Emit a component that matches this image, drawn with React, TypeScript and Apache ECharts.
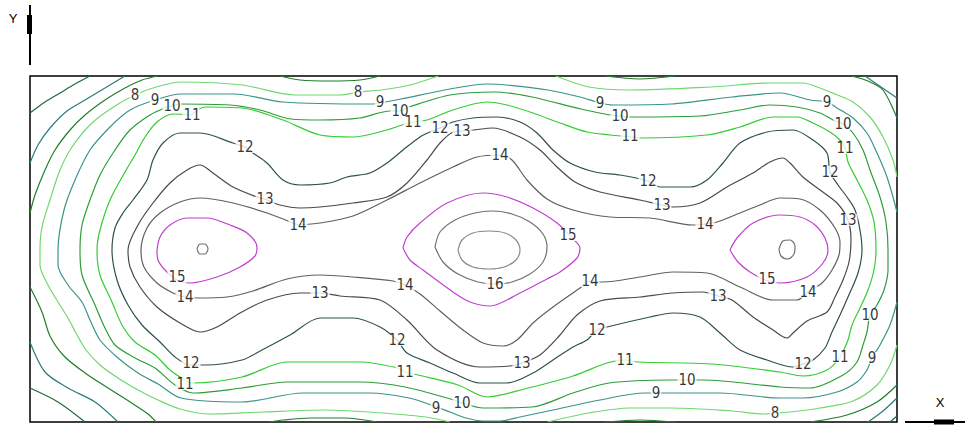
import React, { useEffect, useRef } from "react";
import * as echarts from "echarts";

// Contour lines, in plot units (x 0..86.7, y 0..34.6).
// Each level holds one or more polylines.
const c5 = [
  [[0.0, 30.9], [1.5, 32.0], [3.0, 32.9], [4.5, 33.8], [6.0, 34.6]],
  [[0.0, 3.4], [2.8, 2.0], [5.5, 0.0]],
  [[86.0, 0.0], [86.7, 0.6]],
];
const c6 = [
  [[0.0, 25.9], [0.8, 27.7], [2.0, 29.4], [3.7, 31.1], [5.5, 32.2], [7.5, 33.4], [9.5, 34.6]],
  [[0.0, 8.0], [1.5, 5.0], [3.8, 3.4], [6.5, 2.0], [8.8, 0.0]],
  [[83.5, 34.6], [86.7, 32.4]],
  [[83.8, 0.0], [85.3, 1.1], [86.7, 2.4]],
];
const c7 = [
  [[0.0, 20.9], [0.5, 22.7], [1.5, 25.2], [2.5, 27.2], [4.0, 29.2], [5.5, 30.7], [7.5, 32.2], [9.5, 33.4], [11.2, 34.2], [12.8, 34.6]],
  [[25.0, 34.6], [27.0, 34.2], [30.0, 34.1], [33.0, 34.2], [35.0, 34.6]],
  [[57.5, 34.6], [61.0, 34.3], [64.5, 34.6]],
  [[82.2, 34.6], [83.8, 34.1], [85.3, 33.2], [86.7, 30.4]],
  [[0.0, 13.5], [1.2, 11.0], [2.0, 8.6], [3.4, 6.6], [5.5, 4.9], [7.8, 3.4], [10.0, 2.0], [11.8, 0.8], [12.6, 0.0]],
  [[24.0, 0.0], [25.3, 0.2], [28.1, 0.4], [31.4, 0.4], [34.7, 0.0]],
  [[57.5, 0.0], [61.0, 0.2], [64.5, 0.0]],
  [[78.0, 0.0], [81.7, 0.7], [84.7, 2.0], [86.7, 3.7]],
];
const c8 = [
  [[40.8, 34.6], [38.0, 33.7], [35.1, 33.2], [32.8, 33.0], [31.0, 32.7], [26.5, 32.7], [21.2, 33.7], [15.1, 34.0], [12.6, 33.5], [10.5, 32.7],
   [8.5, 31.6], [6.2, 29.9], [4.2, 27.5], [3.0, 25.2], [2.0, 22.2], [1.2, 19.5], [1.0, 17.2], [1.0, 15.7], [1.8, 13.7], [2.8, 12.0],
   [3.8, 10.4], [4.6, 8.9], [5.6, 7.2], [7.0, 5.7], [8.8, 4.4], [10.8, 3.2], [12.8, 2.2], [15.0, 1.3], [17.9, 0.8], [23.2, 1.0],
   [29.4, 1.2], [33.9, 1.0], [39.6, 0.5], [42.0, 0.0]],
  [[52.6, 34.6], [55.9, 33.5], [60.0, 33.2], [68.1, 33.5], [74.0, 33.9], [77.3, 33.9], [79.0, 33.4], [80.5, 32.8], [82.3, 32.0], [84.0, 30.5],
   [85.3, 28.5], [86.3, 26.2], [86.7, 24.5]],
  [[51.8, 0.0], [55.9, 0.9], [60.0, 1.4], [64.1, 1.4], [70.2, 1.1], [73.5, 0.8], [74.5, 0.9], [76.0, 1.0], [79.0, 1.4], [82.3, 2.1],
   [84.7, 3.7], [86.0, 5.7], [86.7, 7.7]],
];
const c9 = [
  [[86.7, 21.0], [85.7, 24.5], [84.7, 26.9], [83.7, 28.9], [82.3, 30.4], [80.7, 31.4], [79.7, 32.0], [78.0, 32.2], [75.0, 32.9], [70.2, 32.5],
   [64.1, 31.8], [58.3, 31.7], [57.0, 31.9], [55.0, 32.5], [51.8, 33.2], [47.7, 33.7], [45.7, 33.8], [42.0, 33.3], [37.1, 32.3], [35.0, 31.9],
   [34.3, 31.8], [25.3, 32.0], [20.4, 32.8], [15.1, 32.8], [12.5, 32.2], [10.0, 31.2], [8.0, 29.5], [6.0, 27.2], [4.5, 24.2], [3.4, 21.2],
   [2.8, 17.2], [2.8, 15.7], [3.8, 13.7], [5.2, 12.0], [6.0, 10.2], [7.0, 8.2], [8.8, 6.4], [10.8, 4.9], [12.8, 3.8], [15.1, 2.4],
   [21.2, 2.0], [27.3, 2.9], [33.9, 2.9], [37.9, 2.4], [40.4, 1.6], [42.0, 1.0], [43.6, 0.4], [45.3, 0.1], [47.0, 0.1], [49.0, 0.5],
   [52.3, 1.2], [57.0, 2.2], [61.5, 2.9], [62.6, 2.9], [64.0, 2.9], [69.0, 2.9], [75.0, 2.4], [77.3, 2.4], [80.7, 3.0], [82.7, 4.0],
   [83.7, 5.2], [84.2, 6.4], [85.0, 7.7], [86.0, 9.7], [86.7, 12.0]],
];
const c10 = [
  [[14.2, 31.6], [15.0, 31.8], [20.0, 31.7], [23.0, 31.2], [26.1, 30.3], [29.0, 30.2], [33.0, 30.4], [36.0, 31.1], [37.0, 31.1], [37.9, 31.5],
   [42.0, 32.7], [46.5, 33.0], [50.2, 32.5], [55.1, 31.3], [58.0, 30.7], [59.0, 30.6], [60.0, 30.5], [67.0, 30.6], [71.0, 31.2], [74.0, 31.7],
   [76.7, 31.5], [79.0, 30.9], [80.3, 30.2], [81.3, 29.8], [82.3, 28.9], [83.3, 27.2], [84.0, 25.2], [85.0, 22.5], [85.6, 20.0], [85.8, 17.2],
   [85.8, 15.2], [85.4, 13.2], [84.7, 11.7], [84.0, 10.7], [83.7, 9.0], [83.3, 7.7], [82.7, 6.0], [81.3, 4.7], [78.0, 3.4], [75.0, 3.5],
   [67.3, 4.2], [65.7, 4.2], [64.1, 4.2], [57.9, 3.9], [54.3, 2.9], [50.2, 1.5], [45.3, 1.4], [43.2, 1.9], [42.4, 2.2], [37.5, 3.5],
   [33.0, 4.0], [25.7, 4.0], [21.2, 3.4], [16.3, 2.9], [14.5, 3.7], [12.5, 5.4], [10.5, 6.4], [8.5, 7.7], [7.5, 9.4], [6.5, 11.7],
   [5.2, 14.7], [5.0, 17.2], [5.2, 19.7], [6.0, 22.2], [7.0, 24.7], [8.5, 27.2], [10.0, 29.2], [12.0, 30.7], [13.5, 31.4], [14.2, 31.6]],
];
const c11 = [
  [[16.2, 30.7], [17.5, 31.5], [21.2, 31.4], [25.3, 30.2], [29.0, 28.7], [32.3, 28.5], [35.7, 29.2], [37.2, 29.7], [38.3, 30.0], [39.7, 30.2],
   [42.3, 31.2], [45.7, 32.0], [47.7, 31.7], [50.3, 30.9], [53.0, 29.9], [55.7, 29.0], [58.0, 28.7], [60.2, 28.5], [61.0, 28.4], [67.7, 28.7],
   [71.0, 29.5], [74.3, 30.5], [76.7, 30.5], [78.3, 29.9], [80.0, 29.0], [81.0, 28.2], [81.5, 27.4], [81.8, 26.0], [82.7, 24.2], [83.7, 22.2],
   [84.4, 20.0], [84.6, 17.2], [84.4, 15.2], [83.8, 13.2], [83.0, 11.4], [82.2, 9.7], [81.8, 8.2], [81.0, 6.5], [79.7, 5.2], [77.3, 4.6],
   [75.0, 5.0], [68.1, 5.8], [60.8, 6.0], [59.5, 6.2], [57.7, 5.9], [54.3, 4.6], [49.8, 3.4], [45.7, 2.5], [42.8, 3.7], [38.8, 4.7],
   [37.5, 5.0], [36.8, 5.4], [33.0, 6.0], [25.7, 6.0], [21.2, 4.5], [16.3, 3.9], [15.5, 4.2], [14.0, 5.2], [12.5, 6.7], [10.5, 8.0],
   [9.2, 9.7], [8.2, 12.0], [7.0, 14.7], [6.7, 17.2], [7.0, 19.2], [8.0, 22.2], [9.5, 25.0], [10.5, 26.7], [11.5, 28.5], [12.7, 30.0],
   [14.3, 30.8], [16.2, 30.7]],
];
const c12 = [
  [[21.5, 27.5], [22.3, 26.9], [23.7, 25.9], [25.3, 24.2], [27.0, 23.7], [30.0, 23.9], [31.7, 24.5], [34.0, 24.9], [35.7, 25.9], [37.3, 27.2],
   [39.0, 28.5], [40.0, 29.0], [41.0, 29.4], [42.3, 30.0], [44.3, 30.4], [46.7, 30.5], [49.0, 30.0], [50.7, 28.9], [52.3, 27.2], [54.0, 25.9],
   [56.5, 25.0], [59.0, 24.7], [61.8, 24.1], [63.0, 23.5], [66.0, 23.5], [67.7, 24.2], [69.3, 25.9], [71.0, 27.9], [73.7, 29.0], [76.3, 29.2],
   [78.3, 28.2], [79.7, 26.9], [80.0, 25.0], [80.8, 23.7], [81.7, 22.5], [82.5, 21.2], [83.0, 19.2], [83.2, 17.2], [82.8, 14.9], [81.8, 12.5],
   [81.0, 10.7], [80.2, 9.0], [79.5, 7.4], [78.3, 6.2], [77.3, 5.8], [76.3, 5.5], [73.7, 6.2], [71.0, 7.2], [69.0, 8.9], [67.0, 10.5],
   [64.3, 10.9], [62.0, 10.5], [57.7, 9.5], [56.7, 9.2], [55.7, 8.2], [54.3, 7.5], [52.3, 6.2], [50.3, 4.9], [47.7, 3.9], [45.0, 3.9],
   [42.3, 4.9], [40.0, 5.9], [37.7, 6.9], [36.7, 8.2], [35.0, 9.5], [32.3, 10.4], [29.0, 10.4], [26.0, 8.7], [23.2, 7.2], [21.2, 6.2],
   [17.5, 5.7], [16.0, 5.7], [14.5, 6.5], [13.0, 8.0], [11.2, 9.7], [9.8, 11.7], [8.7, 14.2], [8.2, 17.2], [8.5, 19.4], [9.3, 20.9],
   [10.3, 22.2], [11.7, 24.2], [12.3, 26.2], [13.3, 27.9], [15.0, 28.9], [17.0, 28.9], [20.3, 27.9], [21.5, 27.5]],
];
const c13 = [
  [[23.5, 22.3], [25.0, 21.7], [27.0, 21.4], [29.0, 21.5], [32.3, 21.9], [35.7, 22.5], [37.7, 23.9], [39.7, 26.2], [41.0, 27.9], [42.3, 29.0],
   [43.2, 29.1], [44.3, 29.2], [46.3, 29.4], [49.0, 28.5], [51.0, 27.2], [52.7, 25.5], [54.5, 24.0], [57.0, 23.0], [61.0, 22.2], [63.2, 21.7],
   [64.3, 21.5], [67.0, 21.9], [69.7, 23.5], [72.3, 24.9], [74.0, 26.0], [75.3, 26.4], [76.0, 25.9], [77.3, 24.5], [79.0, 23.2], [80.7, 21.9],
   [81.8, 20.2], [82.1, 18.2], [81.9, 16.0], [81.3, 14.2], [80.5, 12.5], [79.7, 11.0], [77.7, 10.1], [76.3, 8.9], [75.7, 8.4], [74.3, 9.2],
   [72.3, 10.5], [70.2, 12.2], [68.8, 12.6], [67.3, 13.0], [64.3, 12.9], [61.0, 12.5], [57.0, 12.1], [54.7, 10.7], [53.0, 8.7], [51.0, 6.7],
   [49.2, 5.9], [48.0, 5.6], [45.0, 5.5], [40.7, 7.2], [37.7, 10.2], [35.0, 12.2], [31.0, 12.6], [29.0, 12.9], [27.0, 12.9], [23.7, 12.2],
   [21.0, 10.9], [18.7, 9.5], [17.0, 9.0], [15.0, 9.9], [12.7, 11.5], [11.0, 13.5], [10.0, 15.5], [9.8, 17.2], [10.8, 19.7], [12.3, 21.9],
   [14.0, 23.9], [15.7, 25.2], [17.0, 25.7], [18.3, 24.9], [20.3, 23.5], [22.7, 22.5], [23.5, 22.3]],
];
const c14 = [
  [[26.8, 19.7], [23.7, 20.9], [20.3, 21.9], [17.0, 22.4], [15.0, 22.0], [13.0, 20.9], [11.7, 19.4], [11.1, 17.2], [11.4, 15.5], [12.7, 13.9],
   [14.3, 12.9], [15.5, 12.5], [16.7, 12.4], [19.7, 12.5], [22.3, 13.1], [25.7, 14.3], [29.0, 14.7], [32.3, 14.5], [36.3, 14.1], [37.5, 13.7],
   [39.0, 12.8], [41.0, 11.1], [43.3, 9.2], [45.3, 7.9], [47.3, 7.6], [48.7, 8.2], [50.3, 9.9], [52.3, 11.5], [55.0, 13.4], [56.0, 14.1],
   [57.3, 14.0], [61.0, 14.5], [64.3, 15.0], [67.7, 14.9], [71.0, 13.5], [74.3, 12.2], [76.7, 12.2], [77.8, 13.0], [79.2, 13.9], [80.2, 15.2],
   [80.9, 16.7], [81.0, 17.9], [80.5, 19.4], [79.0, 21.2], [77.0, 22.3], [75.0, 22.4], [73.0, 21.7], [71.0, 20.9], [68.7, 20.0], [67.5, 19.8],
   [66.3, 19.7], [62.0, 20.4], [58.0, 20.5], [54.3, 21.2], [51.7, 22.3], [49.7, 24.2], [48.2, 26.2], [47.0, 26.7], [44.7, 26.5], [42.3, 25.5],
   [39.0, 23.9], [35.7, 22.2], [32.3, 20.6], [29.0, 19.9], [26.8, 19.7]],
];
const c15 = [
  [[37.3, 17.4], [37.7, 18.5], [39.0, 19.9], [41.7, 21.9], [45.3, 22.9], [47.7, 22.5], [50.3, 21.4], [52.7, 19.9], [54.2, 18.4], [55.0, 17.4],
   [54.7, 16.4], [53.0, 15.0], [51.7, 14.3], [49.0, 12.9], [46.0, 11.6], [44.0, 12.0], [42.3, 13.0], [39.3, 15.2], [38.0, 16.2], [37.3, 17.4]],
  [[12.7, 17.2], [13.0, 18.5], [14.0, 19.7], [15.7, 20.4], [17.7, 20.4], [20.0, 19.7], [21.7, 18.9], [22.7, 17.5], [22.5, 16.6], [21.0, 15.5],
   [18.7, 14.5], [16.0, 13.9], [14.7, 14.2], [13.5, 15.2], [12.8, 16.2], [12.7, 17.2]],
  [[70.0, 17.2], [70.7, 18.4], [72.3, 19.9], [75.0, 20.7], [77.0, 20.5], [78.5, 19.7], [79.5, 18.4], [79.8, 17.2], [79.3, 15.9], [77.7, 14.5],
   [75.0, 13.9], [73.5, 14.2], [72.0, 15.0], [70.8, 16.0], [70.0, 17.2]],
];
const c16 = [
  [[40.5, 17.5], [41.0, 19.0], [42.5, 20.2], [44.5, 20.9], [46.2, 21.1], [48.2, 20.8], [50.0, 20.0], [51.3, 18.8], [51.7, 17.5], [51.3, 16.0],
   [50.0, 14.8], [48.2, 14.0], [46.5, 13.8], [44.8, 14.0], [42.8, 14.8], [41.3, 16.0], [40.5, 17.5]],
  [[16.7, 17.3], [17.0, 17.8], [17.5, 17.8], [17.8, 17.3], [17.5, 16.8], [17.0, 16.8], [16.7, 17.3]],
  [[74.9, 17.3], [75.3, 18.1], [76.0, 18.2], [76.5, 17.6], [76.4, 16.8], [75.8, 16.3], [75.1, 16.6], [74.9, 17.3]],
];
const c17 = [
  [[42.8, 17.2], [43.2, 18.2], [44.3, 18.9], [45.9, 19.1], [47.5, 18.9], [48.6, 18.2], [49.0, 17.2], [48.6, 16.2], [47.4, 15.5], [45.9, 15.3],
   [44.3, 15.5], [43.2, 16.2], [42.8, 17.2]],
];

const levelValues = [5, 6, 7, 8, 9, 10, 11, 12, 13, 14, 15, 16, 17];
const levelLines = [c5, c6, c7, c8, c9, c10, c11, c12, c13, c14, c15, c16, c17];

// Contour labels
const labelText = [
  "8", "9", "10", "11", "12", "13", "14",
  "8", "9", "10", "11", "12", "13", "14", "15",
  "9", "10", "11", "12", "13", "14",
  "9", "10", "11", "12", "13",
  "15", "14", "13", "14", "16", "14", "13", "15", "14",
  "12", "11", "12", "13", "12", "11", "12", "11", "10", "9",
  "11", "10", "9", "10", "9", "8",
];
const labelX = [
  10.5, 12.5, 14.2, 16.2, 21.5, 23.5, 26.8,
  32.8, 35.0, 37.0, 38.3, 41.0, 43.2, 47.0, 53.8,
  57.0, 59.0, 60.0, 61.8, 63.2, 67.5,
  79.7, 81.3, 81.5, 80.0, 81.8,
  14.7, 15.5, 29.0, 37.5, 46.5, 56.0, 68.8, 73.7, 77.8,
  16.1, 15.5, 36.7, 49.2, 56.7, 59.5, 77.3, 81.0, 84.0, 84.2,
  37.5, 43.2, 40.6, 65.7, 62.6, 74.5,
];
const labelY = [
  32.7, 32.2, 31.6, 30.7, 27.5, 22.3, 19.7,
  33.0, 32.0, 31.1, 30.0, 29.4, 29.1, 26.7, 18.7,
  31.9, 30.6, 28.6, 24.1, 21.7, 19.8,
  32.0, 29.8, 27.4, 25.0, 20.2,
  14.5, 12.5, 12.9, 13.7, 13.8, 14.1, 12.6, 14.3, 13.0,
  5.9, 3.8, 8.2, 5.9, 9.2, 6.2, 5.8, 6.5, 10.7, 6.4,
  5.0, 1.9, 1.4, 4.2, 2.9, 0.9,
];

const levelColor: Record<number, string> = {
  5: "#1d6b35",
  6: "#2b7c7c",
  7: "#1f7f2a",
  8: "#6fd86f",
  9: "#3a9488",
  10: "#2d9d3a",
  11: "#33cc33",
  12: "#2f5050",
  13: "#4a4a4a",
  14: "#606060",
  15: "#c040d0",
  16: "#707070",
  17: "#8a8a8a",
};

export default function App() {
  const ref = useRef<HTMLDivElement>(null);

  useEffect(() => {
    if (!ref.current) return;
    const chart = echarts.init(ref.current, undefined, { renderer: "svg" });

    const series: any[] = [];
    levelLines.forEach((pieces, i) => {
      const lv = levelValues[i];
      pieces.forEach((piece, j) => {
        series.push({
          name: `c${lv}_${j}`,
          type: "line",
          data: piece,
          symbol: "none",
          showSymbol: false,
          smooth: 0.3,
          silent: true,
          z: 2,
          lineStyle: { color: levelColor[lv], width: 1.2 },
        });
      });
    });

    series.push({
      name: "labels",
      type: "scatter",
      symbolSize: 0,
      silent: true,
      z: 5,
      data: labelText.map((t, i) => [labelX[i], labelY[i], t]),
      label: {
        show: true,
        position: "inside",
        formatter: (p: any) => p.value[2],
        color: "#000",
        fontSize: 15,
        fontFamily: "'Liberation Sans Narrow', 'DejaVu Sans Condensed', 'Liberation Sans', sans-serif",
        backgroundColor: "#fff",
        padding: [0, 1],
        lineHeight: 12,
      },
    });

    chart.setOption({
      animation: false,
      backgroundColor: "#fff",
      grid: {
        left: 30,
        top: 76,
        width: 867,
        height: 346,
        show: true,
        borderColor: "#000",
        borderWidth: 1.5,
        backgroundColor: "#fff",
      },
      xAxis: {
        type: "value",
        min: 0,
        max: 86.7,
        show: false,
      },
      yAxis: {
        type: "value",
        min: 0,
        max: 34.6,
        show: false,
      },
      series,
      graphic: [
        { type: "line", shape: { x1: 30, y1: 5, x2: 30, y2: 65 }, style: { stroke: "#000", lineWidth: 2 } },
        { type: "rect", shape: { x: 27, y: 15, width: 5, height: 19 }, style: { fill: "#000" } },
        { type: "text", x: 13, y: 18, style: { text: "Y", fontSize: 13, fill: "#000", align: "center", verticalAlign: "middle", fontFamily: "'Liberation Sans', sans-serif" } },
        { type: "line", shape: { x1: 905, y1: 422, x2: 965, y2: 422 }, style: { stroke: "#000", lineWidth: 2 } },
        { type: "rect", shape: { x: 934, y: 419.5, width: 20, height: 5 }, style: { fill: "#000" } },
        { type: "text", x: 940, y: 402, style: { text: "X", fontSize: 13, fill: "#000", align: "center", verticalAlign: "middle", fontFamily: "'Liberation Sans', sans-serif" } },
      ],
    });

    return () => chart.dispose();
  }, []);

  return (
    <div
      ref={ref}
      style={{ position: "absolute", left: 0, top: 0, width: 969, height: 427, background: "#fff" }}
    />
  );
}
